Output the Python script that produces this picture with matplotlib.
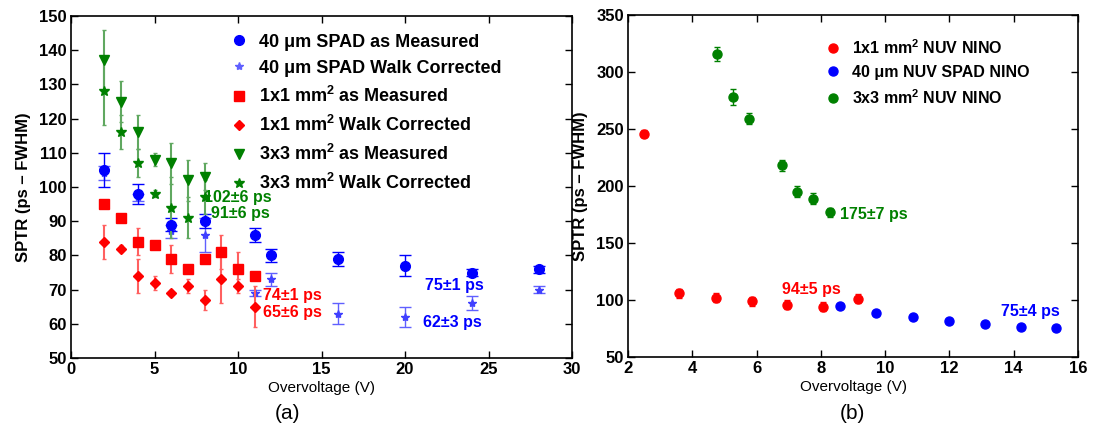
import matplotlib
matplotlib.use("Agg")
import matplotlib.pyplot as plt
from matplotlib.lines import Line2D

plt.rcParams['font.family'] = ['Liberation Sans', 'DejaVu Sans']
plt.rcParams['mathtext.fontset'] = 'custom'
plt.rcParams['mathtext.bf'] = 'Liberation Sans:bold'
plt.rcParams['mathtext.rm'] = 'Liberation Sans'

# ---- Panel (a) data ----
spad_x = [2, 4, 6, 8, 11, 12, 16, 20, 24, 28]
spad_meas = [105, 98, 89, 90, 86, 80, 79, 77, 75, 76]
spad_meas_err = [5, 3, 2, 2, 2, 2, 2, 3, 1, 1]
spad_walk = [104, 97, 87, 86, 69, 73, 63, 62, 66, 70]
spad_walk_err = [2, 1, 2, 5, 1, 2, 3, 3, 2, 1]

mm1_x = [2, 3, 4, 5, 6, 7, 8, 9, 10, 11]
mm1_meas = [95, 91, 84, 83, 79, 76, 79, 81, 76, 74]
mm1_meas_err = [1, 1, 4, 1, 4, 1, 1, 5, 5, 1]
mm1_walk = [84, 82, 74, 72, 69, 71, 67, 73, 71, 65]
mm1_walk_err = [5, 1, 5, 2, 1, 2, 3, 7, 2, 6]

mm3_x = [2, 3, 4, 5, 6, 7, 8]
mm3_meas = [137, 125, 116, 108, 107, 102, 103]
mm3_meas_err = [9, 6, 5, 2, 6, 6, 4]
mm3_walk = [128, 116, 107, 98, 94, 91, 97]
mm3_walk_err = [10, 5, 4, 1, 9, 6, 5]

legend_a = [r"40 μm SPAD as Measured", r"40 μm SPAD Walk Corrected",
            r"1x1 mm$^{\mathbf{2}}$ as Measured", r"1x1 mm$^{\mathbf{2}}$ Walk Corrected",
            r"3x3 mm$^{\mathbf{2}}$ as Measured", r"3x3 mm$^{\mathbf{2}}$ Walk Corrected"]

# ---- Panel (b) data ----
nino1_x = [2.5, 3.6, 4.73, 5.85, 6.96, 8.06, 9.17]
nino1_y = [246, 106, 102, 99, 96, 94, 101]
nino1_err = [3, 4, 4, 4, 4, 4, 4]
spadn_x = [8.61, 9.73, 10.86, 11.98, 13.1, 14.22, 15.32]
spadn_y = [95, 89, 85, 82, 79, 76, 75]
nino3_x = [4.78, 5.28, 5.76, 6.79, 7.27, 7.77, 8.27]
nino3_y = [316, 278, 259, 218, 195, 189, 177]
nino3_err = [6, 7, 5, 5, 5, 5, 4]

legend_b = [r"1x1 mm$^{\mathbf{2}}$ NUV NINO", r"40 μm NUV SPAD NINO",
            r"3x3 mm$^{\mathbf{2}}$ NUV NINO"]

BLUE = '#0000ff'
RED = '#ff0000'
GREEN = '#008000'

fig = plt.figure(figsize=(10.96, 4.36), dpi=100)
ax1 = fig.add_axes([0.0648, 0.1789, 0.4571, 0.7844])
ax2 = fig.add_axes([0.5730, 0.1812, 0.4106, 0.7844])

fs_tick = 12
fs_lab = 12
fs_ann = 11.5

# Panel (a)
ax1.errorbar(spad_x, spad_meas, yerr=spad_meas_err, fmt='o', color=BLUE, ms=7,
             ecolor=BLUE, elinewidth=1, capsize=4, capthick=1, zorder=4)
ax1.errorbar(spad_x, spad_walk, yerr=spad_walk_err, fmt='*', color='#4040ff', ms=6,
             ecolor='#6060ff', elinewidth=1, capsize=4, capthick=1, zorder=3)
ax1.errorbar(mm1_x, mm1_meas, yerr=mm1_meas_err, fmt='s', color=RED, ms=6.5,
             ecolor='#ff6060', elinewidth=1.5, capsize=1.5, zorder=4)
ax1.errorbar(mm1_x, mm1_walk, yerr=mm1_walk_err, fmt='D', color=RED, ms=5,
             ecolor='#ff6060', elinewidth=1.5, capsize=1.5, zorder=4)
ax1.errorbar(mm3_x, mm3_meas, yerr=mm3_meas_err, fmt='v', color=GREEN, ms=7,
             ecolor='#60a860', elinewidth=1.5, capsize=1.5, zorder=4)
ax1.errorbar(mm3_x, mm3_walk, yerr=mm3_walk_err, fmt='*', color=GREEN, ms=7,
             ecolor='#60a860', elinewidth=1.5, capsize=1.5, zorder=4)

ax1.set_xlim(0, 30)
ax1.set_ylim(50, 150)
ax1.set_xticks(range(0, 31, 5))
ax1.set_yticks(range(50, 151, 10))
ax1.set_xlabel("Overvoltage (V)", fontsize=11, labelpad=3)
ax1.set_ylabel("SPTR (ps \u2013 FWHM)", fontsize=fs_lab, fontweight='bold', labelpad=6)

leg_handles_a = [
    Line2D([], [], marker='o', ls='', color=BLUE, ms=7),
    Line2D([], [], marker='*', ls='', color='#6060ff', ms=6),
    Line2D([], [], marker='s', ls='', color=RED, ms=6.5),
    Line2D([], [], marker='D', ls='', color=RED, ms=5),
    Line2D([], [], marker='v', ls='', color=GREEN, ms=7),
    Line2D([], [], marker='*', ls='', color=GREEN, ms=7),
]
ax1.legend(leg_handles_a, legend_a, loc='upper left', bbox_to_anchor=(0.29, 0.985),
           frameon=False, prop={'weight': 'bold', 'size': 13}, labelspacing=0.5,
           handletextpad=0.55, handlelength=1.1, borderpad=0.2)

ax1.text(7.95, 97, "102\u00b16 ps", color=GREEN, fontsize=fs_ann, fontweight='bold', va='center')
ax1.text(8.4, 92.2, "91\u00b16 ps", color=GREEN, fontsize=fs_ann, fontweight='bold', va='center')
ax1.text(11.5, 68.4, "74\u00b11 ps", color=RED, fontsize=fs_ann, fontweight='bold', va='center')
ax1.text(11.5, 63.2, "65\u00b16 ps", color=RED, fontsize=fs_ann, fontweight='bold', va='center')
ax1.text(21.2, 71.1, "75\u00b11 ps", color=BLUE, fontsize=fs_ann, fontweight='bold', va='center')
ax1.text(21.1, 60.3, "62\u00b13 ps", color=BLUE, fontsize=fs_ann, fontweight='bold', va='center')

# Panel (b)
ax2.errorbar(nino1_x, nino1_y, yerr=nino1_err, fmt='o', color=RED, ms=6.5,
             ecolor=RED, elinewidth=1, capsize=2.5, capthick=1, zorder=4)
ax2.plot(spadn_x, spadn_y, 'o', color=BLUE, ms=6.5, zorder=4)
ax2.errorbar(nino3_x, nino3_y, yerr=nino3_err, fmt='o', color=GREEN, ms=6.5,
             ecolor=GREEN, elinewidth=1, capsize=2.5, capthick=1, zorder=4)
ax2.set_xlim(2, 16)
ax2.set_ylim(50, 350)
ax2.set_xticks(range(2, 17, 2))
ax2.set_yticks(range(50, 351, 50))
ax2.set_xlabel("Overvoltage (V)", fontsize=11, labelpad=3)
ax2.set_ylabel("SPTR (ps \u2013 FWHM)", fontsize=fs_lab, fontweight='bold', labelpad=6)

leg_handles_b = [
    Line2D([], [], marker='o', ls='', color=RED, ms=6.5),
    Line2D([], [], marker='o', ls='', color=BLUE, ms=6.5),
    Line2D([], [], marker='o', ls='', color=GREEN, ms=6.5),
]
ax2.legend(leg_handles_b, legend_b, loc='upper left', bbox_to_anchor=(0.41, 0.965),
           frameon=False, prop={'weight': 'bold', 'size': 11.5}, labelspacing=0.5,
           handletextpad=0.6, handlelength=1.2, borderpad=0.2)

ax2.text(8.6, 175, "175\u00b17 ps", color=GREEN, fontsize=fs_ann, fontweight='bold', va='center')
ax2.text(6.78, 109, "94\u00b15 ps", color=RED, fontsize=fs_ann, fontweight='bold', va='center')
ax2.text(13.6, 90, "75\u00b14 ps", color=BLUE, fontsize=fs_ann, fontweight='bold', va='center')

for ax in (ax1, ax2):
    ax.tick_params(direction='in', top=True, right=True, length=5, width=1,
                   labelsize=fs_tick, pad=3)
    for lbl in ax.get_xticklabels() + ax.get_yticklabels():
        lbl.set_fontweight('bold')
    for sp in ax.spines.values():
        sp.set_linewidth(1.2)

fig.text(0.262, 0.052, "(a)", fontsize=15, ha='center', va='center')
fig.text(0.778, 0.052, "(b)", fontsize=15, ha='center', va='center')

fig.savefig("out.png", dpi=100)
